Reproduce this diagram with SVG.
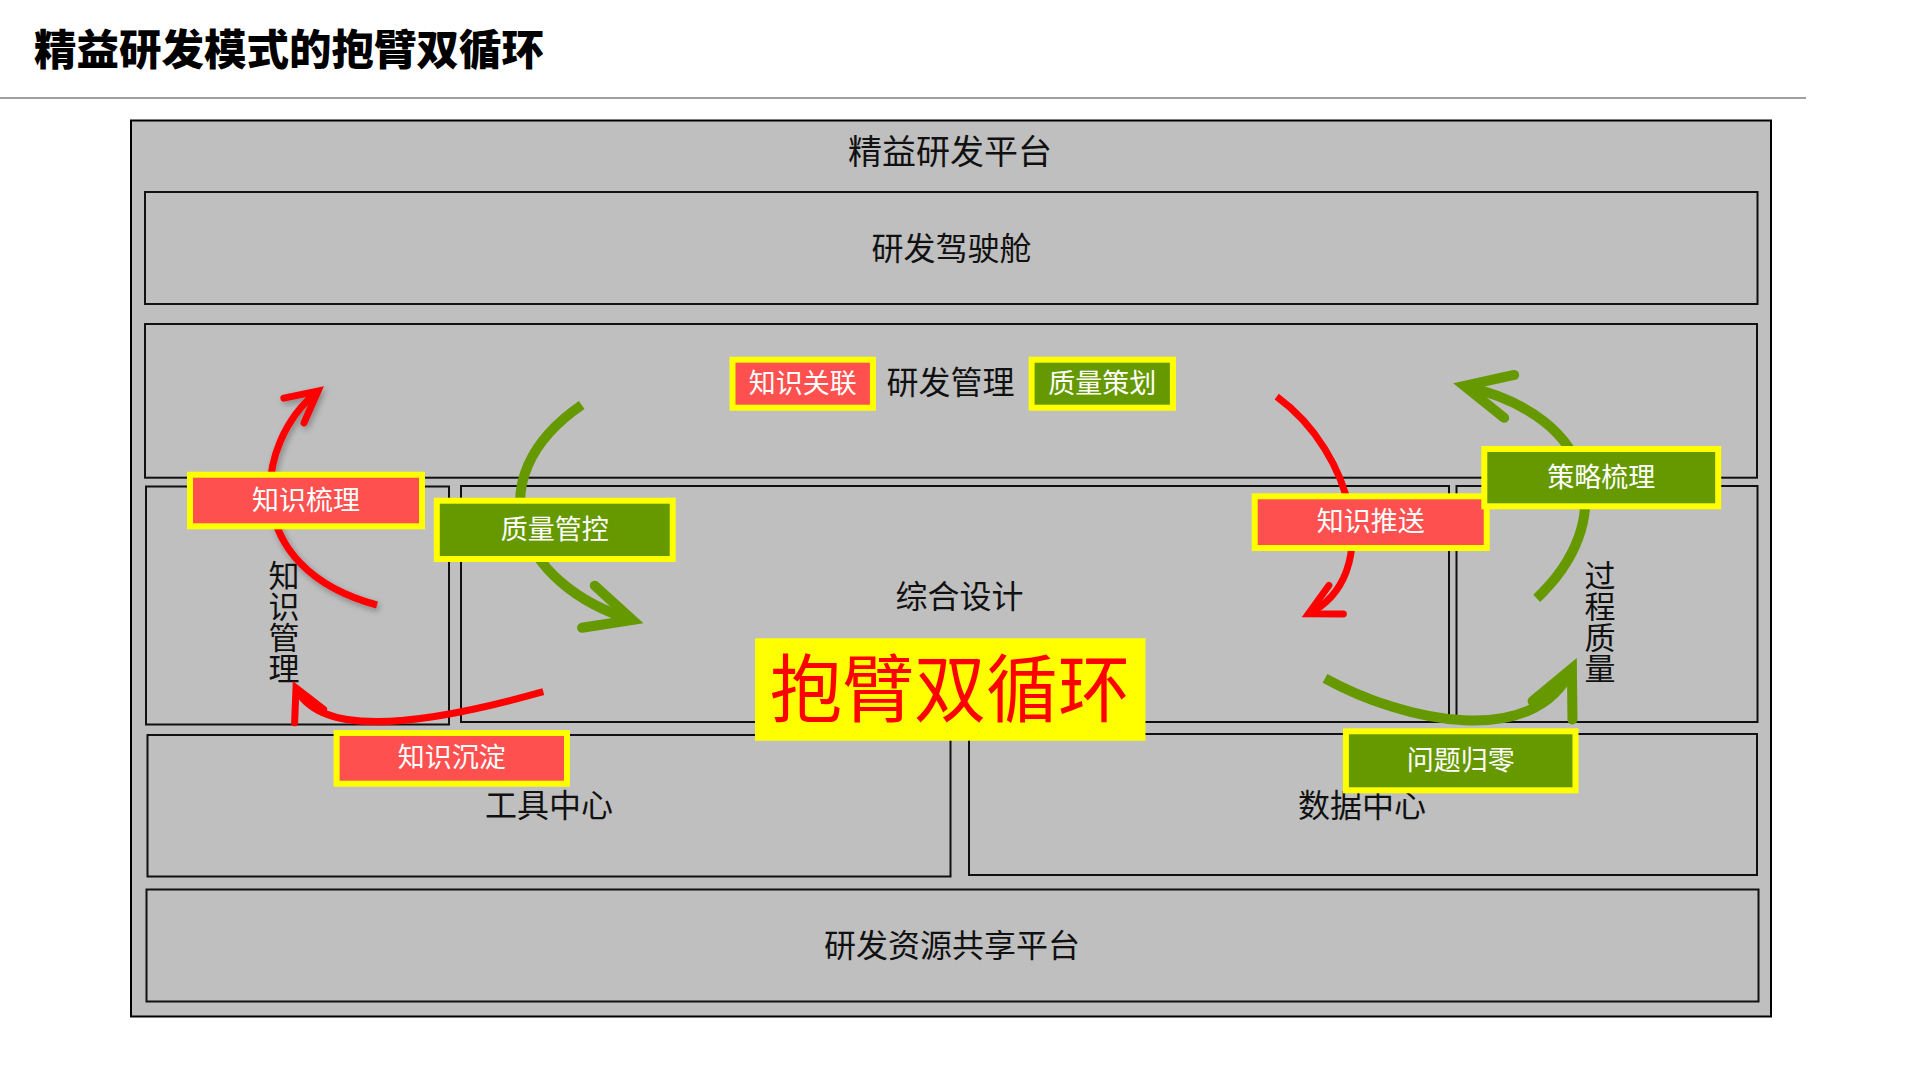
<svg xmlns="http://www.w3.org/2000/svg" width="1913" height="1080" viewBox="0 0 1913 1080">
  <style>
    .bg { fill: #ffffff; }
    .frame { fill: #BFBFBF; stroke: #000000; stroke-width: 2; }
    .box { fill: #BFBFBF; stroke: #111111; stroke-width: 2; }
    .t { font-family: "Liberation Sans", "Noto Sans CJK SC", sans-serif; fill: #111111; text-anchor: middle; dominant-baseline: central; }
    .t32 { font-size: 32px; }
    .t34 { font-size: 34px; }
    .vt { font-family: "Liberation Sans", "Noto Sans CJK SC", sans-serif; fill: #111111; font-size: 31px; text-anchor: middle; writing-mode: vertical-rl; }
    .tag-red { fill: #FF5050; stroke: #FFFF00; stroke-width: 6; }
    .tag-green { fill: #669900; stroke: #FFFF00; stroke-width: 6; }
    .tag-text { font-family: "Liberation Sans", "Noto Sans CJK SC", sans-serif; font-size: 27px; fill: #FFFFFF; text-anchor: middle; dominant-baseline: central; }
    .arc-red { fill: none; stroke: #FF0000; stroke-width: 7; stroke-linecap: butt; marker-end: url(#ah-red); }
    .arc-green { fill: none; stroke: #669900; stroke-width: 10; stroke-linecap: butt; marker-end: url(#ah-green); }
  </style>
  <defs>
    <marker id="ah-red" viewBox="-45 -30 55 60" refX="0" refY="0" markerWidth="55" markerHeight="60" markerUnits="userSpaceOnUse" orient="auto" overflow="visible">
      <path d="M-31,-16 L0,0 L-31,16" fill="none" stroke="#FF0000" stroke-width="7" stroke-linecap="round" stroke-linejoin="miter"/>
    </marker>
    <marker id="ah-green" viewBox="-60 -35 70 70" refX="0" refY="0" markerWidth="70" markerHeight="70" markerUnits="userSpaceOnUse" orient="auto" overflow="visible">
      <path d="M-46,-22 L0,0 L-46,22" fill="none" stroke="#669900" stroke-width="10" stroke-linecap="round" stroke-linejoin="miter"/>
    </marker>
    <filter id="shadow" x="-30%" y="-30%" width="160%" height="160%">
      <feDropShadow dx="2" dy="3" stdDeviation="3" flood-color="#000000" flood-opacity="0.3"/>
    </filter>
  </defs>

  <rect class="bg" x="0" y="0" width="1913" height="1080"/>

  <g id="title">
    <text x="34" y="65" font-family="'Liberation Sans', 'Noto Sans CJK SC', sans-serif" font-size="42.5" font-weight="900" fill="#000000">精益研发模式的抱臂双循环</text>
    <line x1="0" y1="98" x2="1806" y2="98" stroke="#7F7F7F" stroke-width="1.5"/>
  </g>

  <g id="platform">
    <rect class="frame" x="131" y="120.5" width="1640" height="896"/>
    <text class="t t34" x="950" y="152">精益研发平台</text>
  </g>

  <g id="cockpit">
    <rect class="box" x="145" y="192" width="1612.5" height="112"/>
    <text class="t t32" x="951.5" y="249">研发驾驶舱</text>
  </g>

  <g id="rd-management">
    <rect class="box" x="145" y="324" width="1612" height="153.7"/>
    <text class="t t32" x="950.5" y="383">研发管理</text>
  </g>

  <g id="knowledge-management">
    <rect class="box" x="146" y="486.5" width="303" height="238"/>
    <text class="vt" x="281" y="622">知识管理</text>
  </g>

  <g id="integrated-design">
    <rect class="box" x="461" y="486" width="988" height="236"/>
    <text class="t t32" x="959.5" y="597">综合设计</text>
  </g>

  <g id="process-quality">
    <rect class="box" x="1456.5" y="486" width="301" height="236"/>
    <text class="vt" x="1597" y="622">过程质量</text>
  </g>

  <g id="tool-center">
    <rect class="box" x="147.5" y="735" width="803" height="141.5"/>
    <text class="t t32" x="549" y="806">工具中心</text>
  </g>

  <g id="data-center">
    <rect class="box" x="969" y="734" width="788" height="141"/>
    <text class="t t32" x="1362" y="806">数据中心</text>
  </g>

  <g id="shared-platform">
    <rect class="box" x="146.5" y="889.5" width="1612" height="112"/>
    <text class="t t32" x="952" y="946">研发资源共享平台</text>
  </g>

  <g id="connectors">
    <path id="arc-knowledge-sort" class="arc-red" filter="url(#shadow)" d="M377,605 C240,568 252,444.5 318,391"/>
    <path id="arc-knowledge-deposit" class="arc-red" d="M543.3,691.7 C437.7,721.4 321.4,742.4 296,688"/>
    <path id="arc-quality-control" class="arc-green" d="M581.7,405 C474.5,478.5 517.6,585.3 632.4,620"/>
    <path id="arc-knowledge-push" class="arc-red" d="M1276.7,396.7 C1353.6,452.6 1384.2,575.2 1308.5,613.8"/>
    <path id="arc-strategy-sort" class="arc-green" d="M1536.7,598.3 C1616.9,523 1600.8,417.8 1464.4,385.9"/>
    <path id="arc-problem-zero" class="arc-green" d="M1325,678.3 C1403.8,721.7 1534,750.2 1571.9,668.6"/>
  </g>

  <g id="tag-knowledge-link">
    <rect class="tag-red" x="732.5" y="359.7" width="140.4" height="48"/>
    <text class="tag-text" x="802.7" y="383.7">知识关联</text>
  </g>

  <g id="tag-quality-planning">
    <rect class="tag-green" x="1031.6" y="359.7" width="141.3" height="48"/>
    <text class="tag-text" x="1102.3" y="383.7">质量策划</text>
  </g>

  <g id="tag-knowledge-sort">
    <rect class="tag-red" x="190" y="474.7" width="232" height="51.6"/>
    <text class="tag-text" x="306" y="500.5">知识梳理</text>
  </g>

  <g id="tag-quality-control">
    <rect class="tag-green" x="436.8" y="500.7" width="235.9" height="58.3"/>
    <text class="tag-text" x="554.8" y="529.9">质量管控</text>
  </g>

  <g id="tag-knowledge-push">
    <rect class="tag-red" x="1254.7" y="496.3" width="232" height="51.7"/>
    <text class="tag-text" x="1370.7" y="522.2">知识推送</text>
  </g>

  <g id="tag-strategy-sort">
    <rect class="tag-green" x="1484.3" y="449" width="233.9" height="57.3"/>
    <text class="tag-text" x="1601.3" y="477.7">策略梳理</text>
  </g>

  <g id="tag-knowledge-deposit">
    <rect class="tag-red" x="336.6" y="733" width="230.4" height="50.7"/>
    <text class="tag-text" x="451.8" y="758.4">知识沉淀</text>
  </g>

  <g id="tag-problem-zero">
    <rect class="tag-green" x="1345.9" y="731.3" width="229.6" height="59"/>
    <text class="tag-text" x="1460.7" y="760.8">问题归零</text>
  </g>

  <g id="double-loop">
    <rect x="755" y="638.3" width="390.5" height="102.4" fill="#FFFF00"/>
    <text x="950" y="690" font-family="'Liberation Sans', 'Noto Sans CJK SC', sans-serif" font-size="74" fill="#FF0000" text-anchor="middle" dominant-baseline="central" textLength="360" lengthAdjust="spacingAndGlyphs">抱臂双循环</text>
  </g>
</svg>
